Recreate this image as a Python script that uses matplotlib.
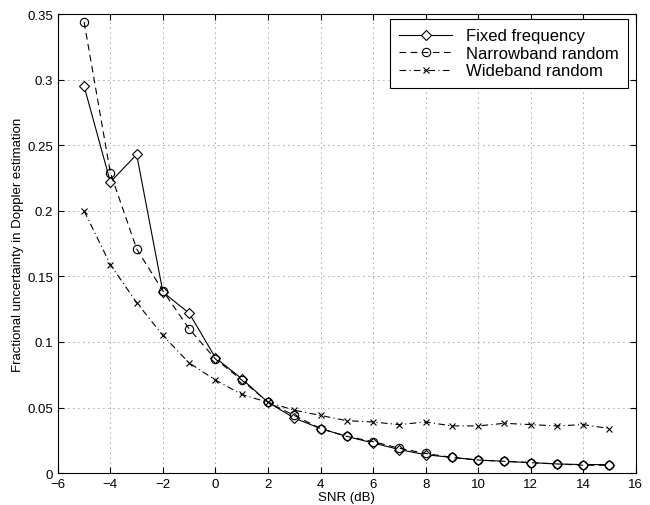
import numpy as np
import matplotlib
matplotlib.use("Agg")
import matplotlib.pyplot as plt

plt.rcParams['font.family'] = ['Liberation Sans', 'DejaVu Sans']

snr = list(range(-5, 16))

fixed_freq = [0.295, 0.222, 0.243, 0.138, 0.122, 0.088, 0.072, 0.054, 0.042, 0.034,
              0.028, 0.023, 0.018, 0.014, 0.012, 0.010, 0.009, 0.008, 0.007, 0.0065, 0.0065]
narrowband = [0.344, 0.229, 0.171, 0.139, 0.110, 0.087, 0.071, 0.054, 0.044, 0.034,
              0.028, 0.024, 0.019, 0.015, 0.012, 0.010, 0.009, 0.008, 0.007, 0.006, 0.006]
wideband = [0.200, 0.159, 0.130, 0.105, 0.084, 0.071, 0.060, 0.054, 0.048, 0.044,
            0.040, 0.039, 0.037, 0.039, 0.036, 0.036, 0.038, 0.037, 0.036, 0.037, 0.034]

xticks = list(range(-6, 17, 2))
yticks = [0, 0.05, 0.1, 0.15, 0.2, 0.25, 0.3, 0.35]
ytick_labels = ['0', '0.05', '0.1', '0.15', '0.2', '0.25', '0.3', '0.35']

fig = plt.figure(figsize=(6.5, 5.06), dpi=100)
ax = fig.add_axes([0.089, 0.063, 0.889, 0.907])

ax.plot(snr, fixed_freq, color='black', lw=0.8, ls='-', marker='D', ms=5,
        mfc='white', mec='black', mew=0.8, label='Fixed frequency')
ax.plot(snr, narrowband, color='black', lw=0.8, ls=(0, (6, 4)), marker='o', ms=6,
        mfc='none', mec='black', mew=0.8, label='Narrowband random')
ax.plot(snr, wideband, color='black', lw=0.8, ls=(0, (6, 3, 1, 3)), marker='x', ms=5,
        mec='black', mew=0.8, label='Wideband random')

ax.set_xlim(-6, 16)
ax.set_ylim(0, 0.35)
ax.set_xticks(xticks)
ax.set_xticklabels([str(t).replace('-', '\u2212') for t in xticks])
ax.set_yticks(yticks)
ax.set_yticklabels(ytick_labels)
ax.tick_params(direction='in', labelsize=9.5, length=4, width=0.8, top=True, right=True)
ax.grid(True, ls=(0, (1, 5)), color='#444444', lw=0.6)
for s in ax.spines.values():
    s.set_linewidth(0.8)

ax.set_xlabel('SNR (dB)', fontsize=9.5, labelpad=1)
ax.set_ylabel('Fractional uncertainty in Doppler estimation', fontsize=9.5, labelpad=2)

leg = ax.legend(loc='upper right', fontsize=12, frameon=True, fancybox=False,
                edgecolor='black', framealpha=1, handlelength=3.2,
                borderaxespad=0, labelspacing=0.15, borderpad=0.55,
                bbox_to_anchor=(0.986, 0.989))
leg.get_frame().set_linewidth(0.8)

fig.savefig('out.png', dpi=100)
